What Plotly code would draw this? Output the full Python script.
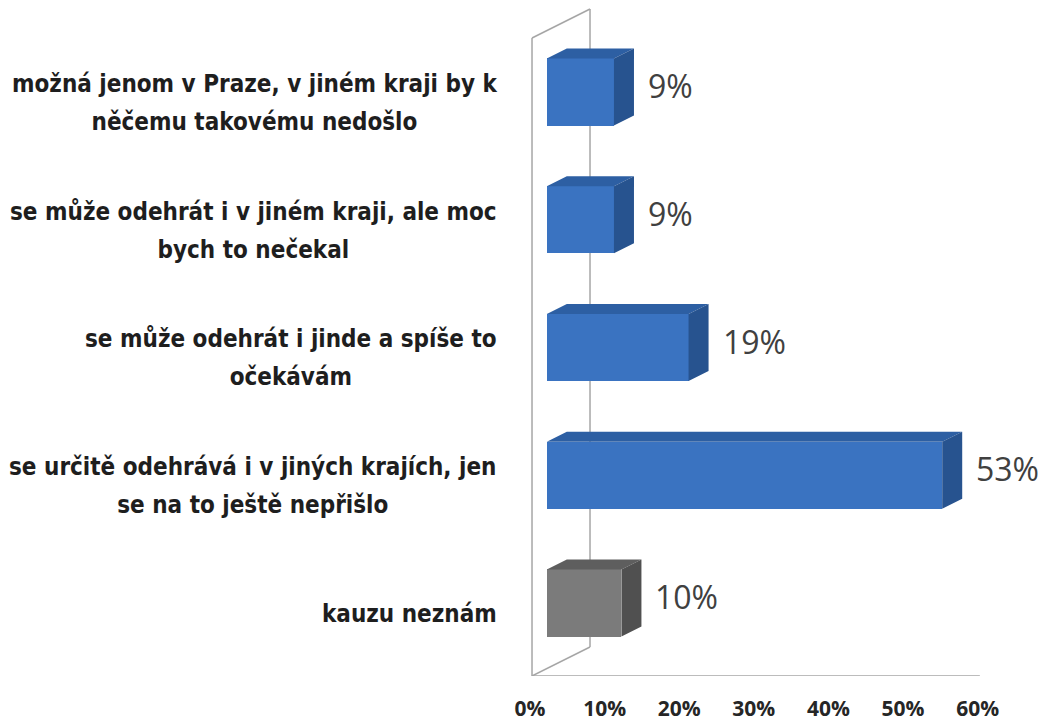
import plotly.graph_objects as go

categories = [
    ["možná jenom v Praze, v jiném kraji by k", "něčemu takovému nedošlo"],
    ["se může odehrát i v jiném kraji, ale moc", "bych to nečekal"],
    ["se může odehrát i jinde a spíše to", "očekávám"],
    ["se určitě odehrává i v jiných krajích, jen", "se na to ještě nepřišlo"],
    ["kauzu neznám"],
]
values = [9, 9, 19, 53, 10]
value_labels = ["9%", "9%", "19%", "53%", "10%"]
tick_values = [0, 10, 20, 30, 40, 50, 60]
tick_labels = ["0%", "10%", "20%", "30%", "40%", "50%", "60%"]

FRONT = ["#3a73c1"] * 4 + ["#7b7b7b"]
TOP = ["#2d5fa3"] * 4 + ["#5e5e5e"]
SIDE = ["#27538f"] * 4 + ["#505050"]

# geometry (data units) of the oblique 3D projection
DEPTH_X, DEPTH_Y = 7.775, -0.227      # full floor depth vector
BAR_START = 0.29                      # bar front face position (fraction of depth)
BAR_DEPTH = 0.345                     # bar thickness (fraction of depth)
BAR_W = 0.525
WALL_X = 0.27
Y_FLOOR, Y_TOP = 4.5714, -0.4227
X_END = 60.3

pos = list(range(len(values)))
x0 = BAR_START * DEPTH_X
dx, dy = BAR_DEPTH * DEPTH_X, BAR_DEPTH * DEPTH_Y

fig = go.Figure()

# back wall / floor outlines
wall_col = "#a6a6a6"
bx, by = WALL_X + DEPTH_X, DEPTH_Y
for (xa, ya, xb, yb) in [
    (WALL_X, Y_FLOOR, WALL_X, Y_TOP),
    (bx, Y_FLOOR + by, bx, Y_TOP + by),
    (WALL_X, Y_TOP, bx, Y_TOP + by),
    (WALL_X, Y_FLOOR, bx, Y_FLOOR + by),
    (WALL_X, Y_FLOOR, X_END, Y_FLOOR),
]:
    fig.add_shape(type="line", x0=xa, y0=ya, x1=xb, y1=yb, xref="x", yref="y",
                  line=dict(color=wall_col, width=1.5), layer="below")

# front faces
fig.add_trace(go.Bar(
    y=pos, x=values, base=[x0] * len(values), orientation="h", width=BAR_W,
    marker=dict(color=FRONT, line=dict(width=0)), hoverinfo="skip", showlegend=False,
))

# top and side faces
for i, v in enumerate(values):
    yt = i - BAR_W / 2
    yb = i + BAR_W / 2
    xr = x0 + v
    fig.add_trace(go.Scatter(
        x=[x0, xr, xr + dx, x0 + dx, x0], y=[yt, yt, yt + dy, yt + dy, yt],
        fill="toself", fillcolor=TOP[i], mode="lines", line=dict(width=0, color=TOP[i]),
        hoverinfo="skip", showlegend=False))
    fig.add_trace(go.Scatter(
        x=[xr, xr + dx, xr + dx, xr, xr], y=[yt, yt + dy, yb + dy, yb, yt],
        fill="toself", fillcolor=SIDE[i], mode="lines", line=dict(width=0, color=SIDE[i]),
        hoverinfo="skip", showlegend=False))

annotations = []
for i, (v, lab) in enumerate(zip(values, value_labels)):
    annotations.append(dict(
        x=x0 + v + dx, y=i - 0.05, xref="x", yref="y", text=lab, showarrow=False,
        xanchor="left", yanchor="middle", xshift=12,
        font=dict(family="Open Sans", size=32, color="#404040")))
for i, lines in enumerate(categories):
    txt = "<br>".join("<span style='font-size:24px'>" + ln + "</span>" for ln in lines)
    annotations.append(dict(
        x=0, y=i + 0.085, xref="paper", yref="y",
        text="<b>" + txt + "</b>", showarrow=False,
        xanchor="right", yanchor="middle", xshift=-6, align="center",
        font=dict(family="Liberation Sans Narrow, DejaVu Sans Condensed, Open Sans",
                  size=29, color="#1e1e1e")))

fig.update_layout(
    width=1054, height=721,
    margin=dict(l=497, r=12, t=0, b=53),
    paper_bgcolor="white", plot_bgcolor="white",
    bargap=0, annotations=annotations,
    xaxis=dict(range=[-3.351, 69.705], showgrid=False, zeroline=False, showline=False,
               tickvals=tick_values, ticktext=tick_labels, ticks="",
               ticklabelstandoff=18,
               tickfont=dict(family="Open Sans", size=21, color="#262626", weight="bold")),
    yaxis=dict(range=[4.5714, -0.6575], showgrid=False, zeroline=False, showline=False,
               showticklabels=False),
)

fig.write_html("out.html")
